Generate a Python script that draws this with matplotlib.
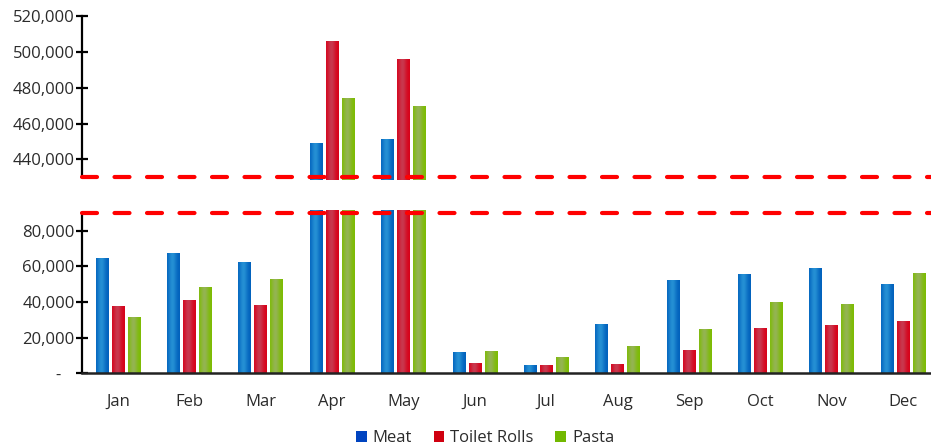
import numpy as np
import matplotlib
matplotlib.use("Agg")
import matplotlib.pyplot as plt
import matplotlib.colors as mcolors
from matplotlib.patches import Patch
from matplotlib.ticker import FuncFormatter, FixedLocator

months = ["Jan", "Feb", "Mar", "Apr", "May", "Jun",
          "Jul", "Aug", "Sep", "Oct", "Nov", "Dec"]
series_names = ["Meat", "Toilet Rolls", "Pasta"]
meat = [64000, 67000, 62000, 449000, 451000, 11600,
        4300, 27300, 52000, 55000, 58800, 49600]
toilet_rolls = [37100, 40800, 37800, 506000, 495500, 5600,
                4300, 4800, 12400, 25100, 26600, 28800]
pasta = [31100, 47700, 52200, 474000, 469700, 12100,
         8600, 14600, 24300, 39300, 38500, 55800]

upper_ticks = [440000, 460000, 480000, 500000, 520000]
lower_ticks = [0, 20000, 40000, 60000, 80000]

# (edge shade, centre shade, legend swatch)
palette = {
    "Meat": ("#0060bc", "#2590d4", "#0044c0"),
    "Toilet Rolls": ("#d80018", "#c8384e", "#d00010"),
    "Pasta": ("#7cbc00", "#94b452", "#72b800"),
}

plt.rcParams["font.family"] = ["Open Sans", "DejaVu Sans"]
text_color = "#2b2b2b"

fig = plt.figure(figsize=(9.31, 4.47), dpi=100)
W, H = 931, 447
left = 82.3 / W
right = 938.7 / W
ax_top = fig.add_axes([left, 1 - 180 / H, right - left, (180 - 16) / H])
ax_bot = fig.add_axes([left, 1 - 373.3 / H, right - left, (373.3 - 210) / H])

x = np.arange(len(months))
bar_w = 0.175
step = 0.224
values = [meat, toilet_rolls, pasta]


def shade_bars(ax, bars, edge, mid):
    e = np.array(mcolors.to_rgb(edge))
    m = np.array(mcolors.to_rgb(mid))
    t = np.linspace(0, 1, 48)
    k = np.exp(-((t - 0.42) / 0.32) ** 2)
    row = e[None, :] * (1 - k[:, None]) + m[None, :] * k[:, None]
    img = np.repeat(row[None, :, :], 2, axis=0)
    lo, hi = ax.get_ylim()
    for b in bars:
        x0, w = b.get_x(), b.get_width()
        y0 = max(b.get_y(), lo)
        y1 = min(b.get_y() + b.get_height(), hi)
        if y1 <= y0:
            continue
        im = ax.imshow(img, extent=(x0, x0 + w, y0, y1), aspect="auto",
                       origin="lower", interpolation="bilinear",
                       zorder=2.1)
        im.set_clip_path(b)
        im.set_clip_box(ax.bbox)


for ax, ylim in ((ax_top, (428500, 520000)), (ax_bot, (0, 91600))):
    groups = []
    for i, (name, vals) in enumerate(zip(series_names, values)):
        bars = ax.bar(x + (i - 1) * step, vals, width=bar_w,
                      color=palette[name][0], zorder=2, linewidth=0)
        groups.append((name, bars))
    ax.set_xlim(-0.5, len(months) - 0.5)
    ax.set_ylim(*ylim)
    for name, bars in groups:
        shade_bars(ax, bars, palette[name][0], palette[name][1])
    ax.set_xlim(-0.5, len(months) - 0.5)
    ax.set_ylim(*ylim)
    for s in ("top", "right"):
        ax.spines[s].set_visible(False)
    ax.spines["left"].set_linewidth(1.6)
    ax.spines["left"].set_color("black")
    ax.tick_params(axis="y", direction="inout", length=9, width=1.6,
                   color="black", labelsize=12, labelcolor=text_color, pad=1)

fmt = FuncFormatter(lambda v, p: f"{v:,.0f}" if v else "-   ")

ax_top.yaxis.set_major_locator(FixedLocator(upper_ticks))
ax_top.yaxis.set_major_formatter(fmt)
ax_top.spines["bottom"].set_visible(False)
ax_top.spines["left"].set_bounds(430000, 520000)
ax_top.set_xticks([])

ax_bot.yaxis.set_major_locator(FixedLocator(lower_ticks))
ax_bot.yaxis.set_major_formatter(fmt)
ax_bot.spines["left"].set_bounds(0, 90000)
ax_bot.spines["bottom"].set_linewidth(1.8)
ax_bot.spines["bottom"].set_color("#222222")
ax_bot.set_xticks(x)
ax_bot.set_xticklabels(months)
ax_bot.tick_params(axis="x", length=0, pad=15, labelsize=12,
                   labelcolor=text_color)

# break markers
dash_kw = dict(color="#ff0000", linewidth=3.0, linestyle=(0, (3.6, 4.2)),
               dash_capstyle="round", clip_on=False, zorder=5)
ax_top.axhline(430000, **dash_kw)
ax_bot.axhline(90000, **dash_kw)

handles = [Patch(facecolor=palette[n][2], edgecolor="none", label=n)
           for n in series_names]
fig.legend(handles=handles, loc="center", ncol=3,
           bbox_to_anchor=(485 / W, 1 - 438 / H), frameon=False,
           fontsize=12, labelcolor=text_color, handlelength=0.65,
           handleheight=0.65, handletextpad=0.35, columnspacing=1.3)

fig.savefig("out.png", dpi=100)
